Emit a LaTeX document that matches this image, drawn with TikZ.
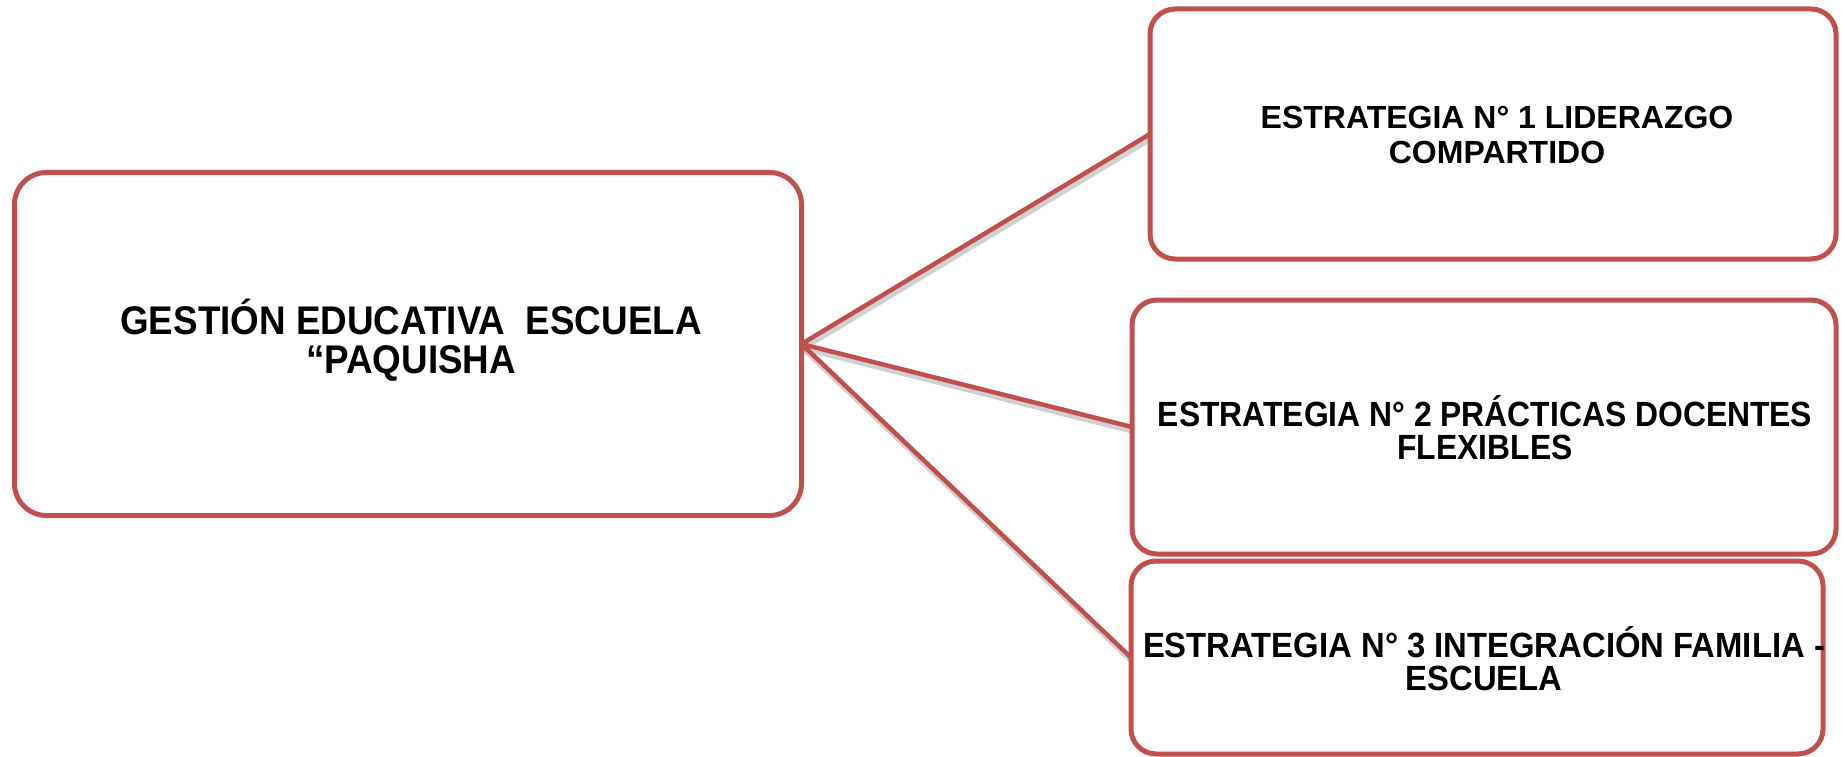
\documentclass[tikz,border=0pt]{standalone}
\usepackage{fontspec}
\setmainfont{Liberation Sans}
\newfontfamily\leftfont{Liberation Sans}[FakeStretch=0.92]
\newfontfamily\boxbfont{Liberation Sans}[FakeStretch=0.91]
\newfontfamily\boxcfont{Liberation Sans}[FakeStretch=0.938]
\definecolor{boxred}{RGB}{192,80,77}
\begin{document}
\begin{tikzpicture}[x=1pt,y=-1pt,
  box/.style={draw=boxred, line width=5pt, fill=white, rounded corners=25pt, inner sep=0pt, outer sep=0pt},
  label/.style={align=center, inner sep=0pt},
  link/.style={draw=boxred, line width=4.5pt},
  linkshadow/.style={draw=black, opacity=0.18, line width=6pt}]
\useasboundingbox (0,0) rectangle (1845,757);
\coordinate (Lc) at (408,344);
\coordinate (Lout) at (801.5,344);
\coordinate (A1) at (1150,134);
\coordinate (A2) at (1132,427);
\coordinate (A3) at (1131,657.5);
% shadows of the connectors
\path[linkshadow] ([shift={(1.5,4)}]Lout) -- ([shift={(1.5,4)}]A1);
\path[linkshadow] ([shift={(1.5,4)}]Lout) -- ([shift={(1.5,4)}]A2);
\path[linkshadow] ([shift={(1.5,4)}]Lout) -- ([shift={(1.5,4)}]A3);
\path[link] (Lout) -- (A1);
\path[link] (Lout) -- (A2);
\path[link] (Lout) -- (A3);
\node[box, rounded corners=32pt, minimum width=787pt, minimum height=343pt] (L) at (Lc) {};
\node[box, minimum width=686pt, minimum height=250pt] (B1) at (1493,134) {};
\node[box, minimum width=704pt, minimum height=254pt] (B2) at (1484,427) {};
\node[box, minimum width=692pt, minimum height=193pt] (B3) at (1477,657.5) {};
\node[label, font=\leftfont\bfseries\fontsize{40}{39}\selectfont] (Lt) at (411,340) {GESTIÓN EDUCATIVA \ ESCUELA\\“PAQUISHA};
\node[label, font=\bfseries\fontsize{32}{35}\selectfont] (B1t) at (1497,135) {ESTRATEGIA N° 1 LIDERAZGO\\COMPARTIDO};
\node[label, font=\boxbfont\bfseries\fontsize{35}{33}\selectfont] (B2t) at (1485,428) {ESTRATEGIA N° 2 PRÁCTICAS DOCENTES\\FLEXIBLES};
\node[label, font=\boxcfont\bfseries\fontsize{35}{33}\selectfont] (B3t) at (1484,659) {ESTRATEGIA N° 3 INTEGRACIÓN FAMILIA -\\ESCUELA};
\end{tikzpicture}
\end{document}
